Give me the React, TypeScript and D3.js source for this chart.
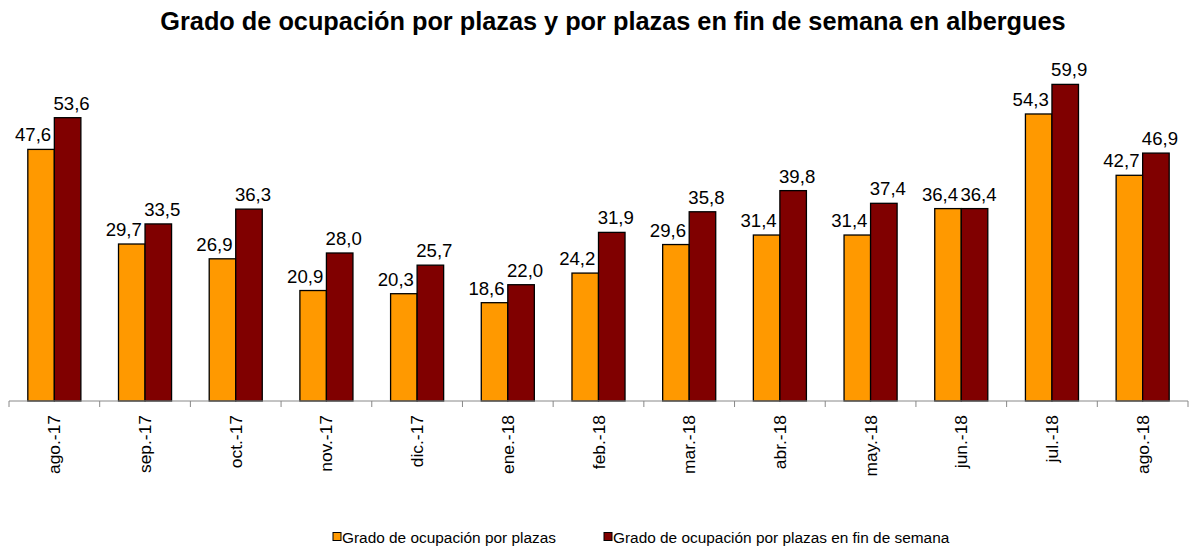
import React from "react";
import * as d3 from "d3";

const categories = ["ago.-17","sep.-17","oct.-17","nov.-17","dic.-17","ene.-18","feb.-18","mar.-18","abr.-18","may.-18","jun.-18","jul.-18","ago.-18"];
const plazas = [47.6,29.7,26.9,20.9,20.3,18.6,24.2,29.6,31.4,31.4,36.4,54.3,42.7];
const finSemana = [53.6,33.5,36.3,28.0,25.7,22.0,31.9,35.8,39.8,37.4,36.4,59.9,46.9];
const seriesNames = ["Grado de ocupación por plazas","Grado de ocupación por plazas en fin de semana"];
const colors = ["#FF9900","#800000"];

export default function App() {
  const W = 1190, H = 547;
  const x = d3.scaleBand<string>().domain(categories).range([9, 1188]).paddingInner(0.415).paddingOuter(0.2075);
  const y = d3.scaleLinear().domain([0, 70]).range([401, 31]);
  const inner = d3.scaleBand<number>().domain([0, 1]).range([0, x.bandwidth()]);
  const step = x.step();
  const fmt = (v: number) => v.toFixed(1).replace(".", ",");
  const series = [plazas, finSemana];
  const labelShift = [-8, 4];
  return (
    <svg width={W} height={H} style={{ position: "absolute", left: 0, top: 0, fontFamily: "Arial, 'Liberation Sans', sans-serif" }}>
      <text x={613} y={30} textAnchor="middle" fontSize={25.3} fontWeight="bold">Grado de ocupación por plazas y por plazas en fin de semana en albergues</text>
      {series.map((s, si) => s.map((v, i) => {
        const bx = (x(categories[i]) as number) + (inner(si) as number);
        return (
          <g key={si + "-" + i}>
            <rect x={bx} y={y(v)} width={inner.bandwidth()} height={401 - y(v)} fill={colors[si]} stroke="#000" strokeWidth={1.3} />
            <text x={bx + inner.bandwidth() / 2 + labelShift[si]} y={y(v) - 8} textAnchor="middle" fontSize={18.6}>{fmt(v)}</text>
          </g>
        );
      }))}
      <line x1={9} x2={1188} y1={401} y2={401} stroke="#888" strokeWidth={1} />
      {d3.range(categories.length + 1).map(i => (
        <line key={i} x1={9 + i * step} x2={9 + i * step} y1={401} y2={407} stroke="#888" strokeWidth={1} />
      ))}
      {categories.map((c, i) => {
        const cx = (x(c) as number) + x.bandwidth() / 2;
        return (
          <text key={c} transform={`translate(${cx + 6},${415}) rotate(-90)`} textAnchor="end" fontSize={17.4}>{c}</text>
        );
      })}
      {seriesNames.map((n, i) => {
        const lx = i === 0 ? 333 : 604;
        return (
          <g key={n}>
            <rect x={lx} y={532.5} width={8} height={8} fill={colors[i]} stroke="#000" strokeWidth={1} />
            <text x={lx + 9} y={543} fontSize={15.4}>{n}</text>
          </g>
        );
      })}
    </svg>
  );
}
